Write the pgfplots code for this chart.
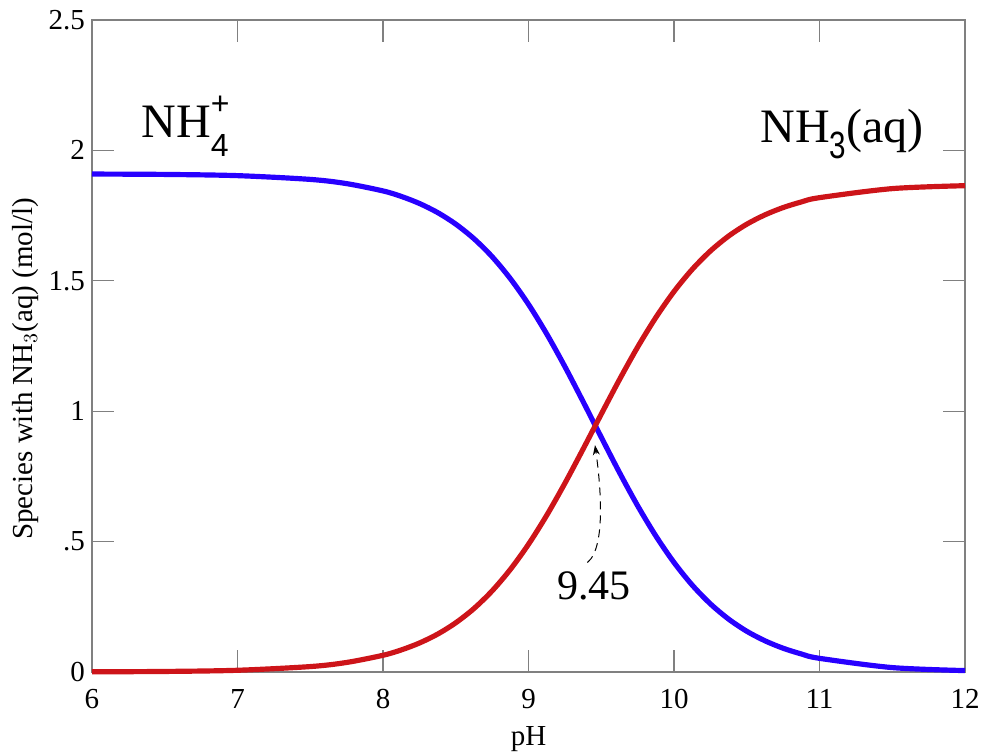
\documentclass[border=0pt]{standalone}
\usepackage{pgfplots}
\pgfplotsset{compat=1.18}
\usepackage{graphicx}
\usepackage{fontspec}
\setmainfont{Liberation Serif}
\newfontfamily\subsans{Liberation Sans}
\usetikzlibrary{calc,arrows.meta}
\definecolor{nhblue}{RGB}{40,0,255}
\definecolor{nhred}{RGB}{205,20,25}
\begin{document}
\begin{tikzpicture}
\begin{axis}[
  scale only axis,
  width=436.5bp, height=326bp,
  xmin=6, xmax=12, ymin=0, ymax=2.5,
  xtick={6,7,8,9,10,11,12},
  ytick={0,0.5,1,1.5,2,2.5},
  yticklabels={0,.5,1,1.5,2,2.5},
  tick align=inside,
  major tick length=11bp,
  axis line style={gray, line width=0.6pt},
  tick style={gray, line width=0.6pt},
  /pgf/number format/assume math mode=true,
  tick label style={font=\fontsize{14.5bp}{16bp}\selectfont, black},
  xticklabel style={yshift=-5bp},
  label style={font=\fontsize{14.5bp}{16bp}\selectfont},
  xlabel={pH},
  ylabel={Species with NH$_3$(aq) (mol/l)},
  xlabel style={yshift=-2bp},
  ylabel style={at={(ticklabel cs:0.465)}, yshift=-2bp},
  clip=false,
]
\addplot[nhblue, line width=2.6pt, smooth, tension=0.5] coordinates {
(6,1.9093) (6.5,1.9079) (7,1.9032) (7.5,1.8888) (7.75,1.8726) (8,1.8446)
(8.125,1.8237) (8.25,1.7966) (8.375,1.7618) (8.5,1.7173) (8.625,1.6615) (8.75,1.5924) (8.875,1.5085)
(9,1.4098) (9.125,1.2965) (9.25,1.1710) (9.375,1.0371) (9.5,0.9002)
(9.625,0.7651) (9.75,0.6376) (9.875,0.5218) (10,0.4200) (10.125,0.3333)
(10.25,0.2613) (10.375,0.2029) (10.5,0.1562) (10.625,0.1197) (10.75,0.0911) (10.875,0.0692) (11,0.0524) (11.5,0.0169) (12,0.0054)
};
\addplot[nhred, line width=2.6pt, smooth, tension=0.5] coordinates {
(6,0.0007) (6.5,0.0021) (7,0.0066) (7.5,0.0208) (7.75,0.0366) (8,0.0641)
(8.125,0.0845) (8.25,0.1110) (8.375,0.1451) (8.5,0.1887) (8.625,0.2433) (8.75,0.3110) (8.875,0.3931)
(9,0.4897) (9.125,0.6006) (9.25,0.7235) (9.375,0.8546) (9.5,0.9887)
(9.625,1.1209) (9.75,1.2458) (9.875,1.3591) (10,1.4588) (10.125,1.5437)
(10.25,1.6142) (10.375,1.6714) (10.5,1.7170) (10.625,1.7528) (10.75,1.7808) (10.875,1.8023) (11,1.8188) (11.5,1.8535) (12,1.8647)
};
\draw[black, line width=0.5pt, dash pattern=on 4bp off 3bp, -{Stealth[length=5bp,width=3.5bp]}]
  (axis cs:9.405,0.42) .. controls (axis cs:9.54,0.48) and (axis cs:9.49,0.74) .. (axis cs:9.457,0.87);
\node[font=\fontsize{21bp}{24bp}\selectfont] at (axis cs:9.45,0.33) {9.45};
\node[font=\fontsize{24bp}{26bp}\selectfont, anchor=base west, inner sep=0pt] at (axis cs:6.337,2.051)
  {NH\rlap{\raisebox{11.5bp}{\subsans\fontsize{16bp}{18bp}\selectfont +}}\raisebox{-9.5bp}{\subsans\fontsize{16bp}{18bp}\selectfont 4}};
\node[font=\fontsize{24bp}{26bp}\selectfont, anchor=base west, inner sep=0pt] at (axis cs:10.591,2.032)
  {NH\raisebox{-8bp}{\scalebox{0.78}[1]{\subsans\fontsize{19bp}{21bp}\selectfont 3}}(aq)};
\end{axis}
\pgfresetboundingbox
\path ($(current axis.south west)+(-46bp,-42bp)$) rectangle ($(current axis.north east)+(8.5bp,10bp)$);
\end{tikzpicture}
\end{document}
